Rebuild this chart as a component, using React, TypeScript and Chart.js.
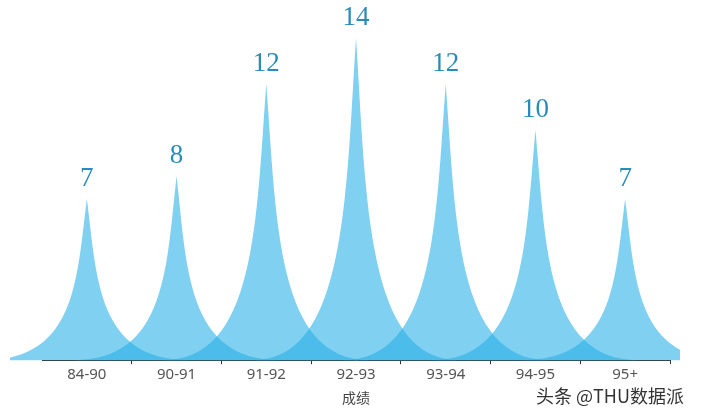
import React, { useEffect, useRef } from "react";
import { Chart, registerables } from "chart.js";

Chart.register(...registerables);

const categories = ["84-90", "90-91", "91-92", "92-93", "93-94", "94-95", "95+"];
const values = [7, 8, 12, 14, 12, 10, 7];
const axisTitle = "成绩";
const watermark = "头条 @THU数据派";

const spikePlugin = {
  id: "spikes",
  afterDatasetsDraw(chart: any) {
    const ctx = chart.ctx;
    const meta = chart.getDatasetMeta(0);
    const xs = chart.scales.x;
    const catW = xs.getPixelForValue(1) - xs.getPixelForValue(0);
    const half = catW * 1.15;
    ctx.save();
    ctx.fillStyle = "rgba(42,177,232,0.6)";
    meta.data.forEach((bar: any) => {
      const x = bar.x;
      const top = bar.y;
      const base = bar.base;
      const mid = (top + base) / 2;
      ctx.beginPath();
      ctx.moveTo(x - half, base);
      ctx.lineTo(x + half, base);
      ctx.bezierCurveTo(x + half * 0.1, base, x + half * 0.1, mid, x, top);
      ctx.bezierCurveTo(x - half * 0.1, mid, x - half * 0.1, base, x - half, base);
      ctx.closePath();
      ctx.fill();
    });
    ctx.fillStyle = "#2a8bb8";
    ctx.font = "27px 'Liberation Serif', 'DejaVu Serif', serif";
    ctx.textAlign = "center";
    ctx.textBaseline = "alphabetic";
    meta.data.forEach((bar: any, i: number) => {
      ctx.fillText(String(values[i]), bar.x, bar.y - 13);
    });
    ctx.restore();
  },
};

export default function App() {
  const ref = useRef<HTMLCanvasElement | null>(null);
  useEffect(() => {
    if (!ref.current) return;
    const chart = new Chart(ref.current, {
      type: "bar",
      data: {
        labels: categories,
        datasets: [
          {
            data: values,
            backgroundColor: "rgba(0,0,0,0)",
            borderWidth: 0,
          },
        ],
      },
      options: {
        animation: false,
        responsive: true,
        maintainAspectRatio: false,
        layout: { padding: { top: 38, left: 32, right: 10, bottom: 8 } },
        plugins: { legend: { display: false }, tooltip: { enabled: false } },
        scales: {
          x: {
            offset: true,
            grid: {
              display: true,
              drawOnChartArea: false,
              tickLength: 4,
              color: (c: any) =>
                c.index === 0 || c.index === categories.length ? "rgba(0,0,0,0)" : "#333",
            },
            border: { display: true, color: "#333", width: 1 },
            ticks: {
              color: "#555",
              font: { family: "'Noto Sans', sans-serif", size: 15 },
              padding: 2,
            },
            title: {
              display: true,
              text: axisTitle,
              color: "#444",
              font: { family: "'Noto Sans CJK SC', sans-serif", size: 14 },
              padding: { top: 3, bottom: 0 },
            },
          },
          y: {
            display: false,
            min: 0,
            max: 14,
          },
        },
      },
      plugins: [spikePlugin],
    } as any);
    return () => chart.destroy();
  }, []);
  return (
    <div style={{ position: "fixed", left: 0, top: 0, width: 701, height: 414, background: "#fff" }}>
      <div style={{ position: "absolute", left: 10, top: 0, width: 670, height: 414 }}>
        <canvas ref={ref} />
      </div>
      <div
        style={{
          position: "absolute",
          left: 536,
          top: 386,
          fontFamily: "'Noto Sans CJK SC', sans-serif",
          fontSize: 18,
          lineHeight: "18px",
          color: "#333",
          whiteSpace: "nowrap",
        }}
      >
        {watermark}
      </div>
    </div>
  );
}
